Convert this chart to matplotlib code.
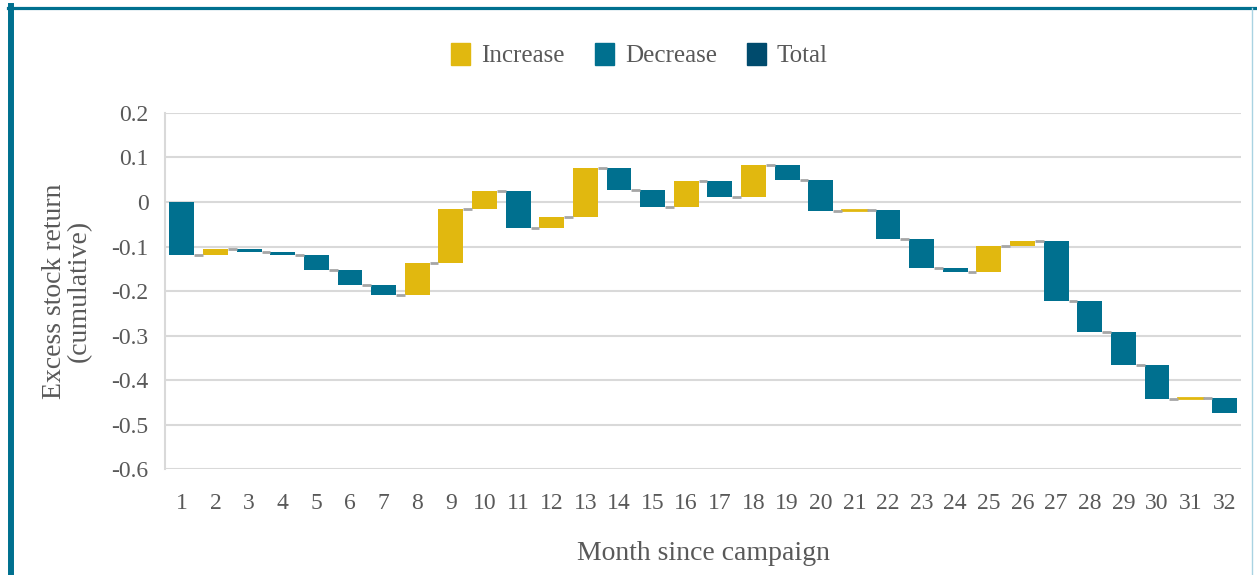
import numpy as np
import matplotlib
matplotlib.use("Agg")
import matplotlib.pyplot as plt
from matplotlib.patches import Patch
from matplotlib.lines import Line2D

# monthly change in excess stock return
months = list(range(1, 33))
changes = [-0.120, 0.015, -0.008, -0.005, -0.034, -0.035, -0.021, 0.070,
           0.122, 0.041, -0.083, 0.024, 0.110, -0.049, -0.038, 0.058,
           -0.036, 0.072, -0.034, -0.069, 0.002, -0.065, -0.066, -0.009,
           0.060, 0.011, -0.135, -0.069, -0.075, -0.076, 0.002, -0.034]
yticks = [0.2, 0.1, 0, -0.1, -0.2, -0.3, -0.4, -0.5, -0.6]
ytick_labels = ["0.2", "0.1", "0", "-0.1", "-0.2", "-0.3", "-0.4", "-0.5", "-0.6"]

inc_col = "#E1B80F"
dec_col = "#00708F"
tot_col = "#004B6D"
txt_col = "#595959"
grid_col = "#D9D9D9"

plt.rcParams['font.family'] = ['Liberation Serif', 'DejaVu Serif']

chg = np.array(changes)
ends = np.cumsum(chg)
starts = ends - chg
colors = [inc_col if c >= 0 else dec_col for c in chg]

fig = plt.figure(figsize=(12.57, 5.75), dpi=100)
ax = fig.add_axes([0.1313, 0.1843, 0.856, 0.6192])

bw = 0.74
ax.bar(months, chg, bottom=starts, width=bw, color=colors, zorder=3)
# thin bars still need to be visible
for m, s, c, col in zip(months, starts, chg, colors):
    if abs(c) < 0.004:
        ax.plot([m - bw / 2, m + bw / 2], [s + c, s + c], color=col, lw=2, zorder=3)

# connectors
for i in range(len(months) - 1):
    ax.plot([months[i] + bw / 2, months[i + 1] - bw / 2], [ends[i], ends[i]],
            color="#A6A6A6", lw=2, solid_capstyle="butt", zorder=4)

ax.set_xlim(0.5, 32.5)
ax.set_ylim(-0.6, 0.2)
ax.set_yticks(yticks)
ax.set_yticklabels(ytick_labels)
ax.set_xticks(months)
ax.set_xticklabels([str(m) for m in months])
ax.yaxis.grid(True, color=grid_col, lw=1.5, zorder=0)
ax.set_axisbelow(True)
for s in ["top", "right", "bottom"]:
    ax.spines[s].set_visible(False)
ax.spines["left"].set_color(grid_col)
ax.spines["left"].set_linewidth(1.5)
ax.tick_params(length=0, colors=txt_col, labelsize=17)
ax.tick_params(axis="y", pad=12)
ax.tick_params(axis="x", pad=17)

ax.set_xlabel("Month since campaign", fontsize=20, color=txt_col, labelpad=20)
ax.set_ylabel("Excess stock return\n(cumulative)", fontsize=20, color=txt_col,
              labelpad=14, linespacing=1.0)

handles = [Patch(color=inc_col), Patch(color=dec_col), Patch(color=tot_col)]
fig.legend(handles, ["Increase", "Decrease", "Total"], loc="center",
           bbox_to_anchor=(0.5 + 11 / 1257, 1 - 55 / 575), ncol=3, frameon=False,
           fontsize=18, labelcolor=txt_col, handlelength=0.75, handleheight=1.0,
           handletextpad=0.45, columnspacing=1.2)

# frame around the figure
fig.add_artist(Line2D([11 / 1257, 11 / 1257], [0, 1 - 6 / 575], color="#00708F", lw=4.3))
fig.add_artist(Line2D([8 / 1257, 1], [1 - 7.5 / 575, 1 - 7.5 / 575], color="#00708F", lw=2.3))
fig.add_artist(Line2D([1252 / 1257, 1252 / 1257], [0, 1 - 8 / 575], color="#A9D3E2", lw=1))

fig.savefig("out.png", dpi=100)
